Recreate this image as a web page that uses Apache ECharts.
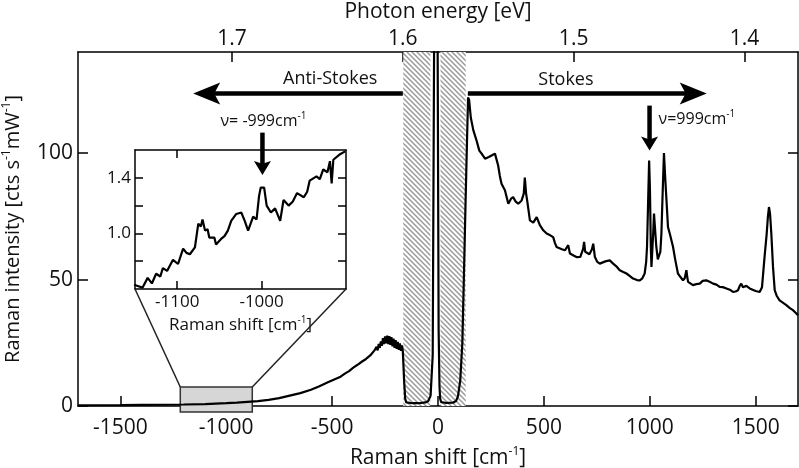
<!DOCTYPE html>
<html><head><meta charset="utf-8">
<script src="https://cdn.jsdelivr.net/npm/echarts@6/dist/echarts.min.js"></script>
<style>html,body{margin:0;padding:0;background:#fff}#c{width:799px;height:468px}</style>
</head><body><div id="c"></div>
<script>
// ---------- data ----------
// main spectrum: [Raman shift (cm-1), intensity (cts s-1 mW-1)]
const spectrum = [
[-1700,0.25],[-1600,0.3],[-1500,0.35],[-1400,0.45],[-1300,0.5],[-1200,0.6],[-1100,0.75],[-1000,1.1],
[-950,1.3],[-900,1.6],[-850,1.9],[-800,2.4],[-750,3.1],[-700,4.1],[-650,5.1],[-600,6.4],[-560,7.8],
[-520,9.4],[-490,10.5],[-460,11.6],[-440,12.8],[-420,13.8],[-400,15.2],[-380,16.3],[-360,17.5],
[-340,18.6],[-320,20.0],[-300,22.0],[-290,23.4],[-285,22.0],[-280,24.5],[-275,23.0],[-270,25.5],
[-265,23.8],[-260,26.8],[-255,24.5],[-250,27.5],[-245,24.8],[-240,27.8],[-235,24.5],[-230,27.6],
[-225,24.2],[-220,27.2],[-215,23.6],[-210,26.6],[-205,23.0],[-200,26.0],[-195,22.6],[-190,25.4],
[-185,22.2],[-180,24.8],[-175,21.8],[-170,24.0],[-166,21.5],[-160,10],[-155,3],[-150,1.4],[-120,1.1],
[-90,1.1],[-60,1.4],[-47,1.9],[-35,4],[-25,20],[-18,150],[-10,2000],[-2,150],[3,30],[7,8],[10,3],
[15,1.5],[40,1.2],[70,1.3],[85,2],[94,3.7],[105,10],[115,25],[122,50],[130,80],[137,105],[142,122],
[147,121],[155,114],[167,109],[182,105],[195,101],[206,99.8],[222,97.8],[240,98.5],[253,99.1],
[269,99.8],[284,95.1],[292,91],[300,87.9],[316,85.3],[332,80],[345,82],[355,82.6],[367,80.8],
[379,80],[395,81.3],[405,84],[410,90.3],[416,84],[421,81.3],[434,73.4],[450,72.5],[466,74.7],
[481,71.5],[497,69.5],[513,68.2],[530,67.5],[544,66.8],[552,64.5],[560,62.9],[585,62],[600,61.6],
[607,61.6],[615,63.6],[623,60.3],[640,59.5],[654,58.9],[672,59],[685,62],[690,64.9],[695,61],
[701,60.3],[715,60],[727,62],[733,64.2],[741,58.9],[752,57],[764,56.3],[790,57.2],[811,57.6],
[827,56.3],[845,55],[858,53.7],[875,53],[890,52.4],[905,51.5],[921,50.4],[940,49.8],[953,49.7],
[965,50.5],[976,52.4],[983,57],[987,62.9],[992,80],[997,97.1],[1001,85],[1005,62.9],[1008,55],
[1011,55.7],[1016,68],[1020,76.1],[1025,70],[1031,62.9],[1038,58],[1044,57.6],[1050,61],[1055,68.2],
[1060,82],[1067,100],[1073,90],[1079,81.3],[1086,70.8],[1095,68],[1110,62.9],[1120,58],[1133,52.4],
[1145,51],[1157,49.7],[1165,50.5],[1173,53.7],[1177,51],[1181,49.1],[1190,48.5],[1204,47.8],
[1220,48.2],[1236,48.4],[1250,49.5],[1267,49.7],[1285,49],[1299,48.4],[1315,48],[1330,47.1],
[1345,47],[1362,46.5],[1378,46],[1393,45.1],[1405,45.3],[1417,45.8],[1425,47.5],[1432,48.4],
[1440,47],[1448,46.5],[1456,47.5],[1464,47.8],[1472,46.5],[1480,45.8],[1500,45.5],[1519,45.1],
[1530,47],[1542,58.9],[1552,68],[1558,75],[1563,78.7],[1568,76],[1574,68.2],[1582,55],[1590,45.8],
[1600,43.5],[1613,41.8],[1630,40.8],[1645,39.9],[1660,38.8],[1676,37.9],[1690,36.8],[1700,35.9]
];
// inset spectrum (zoom of the anti-Stokes side)
const insetSpectrum = [
[-1151,0.63],[-1146,0.62],[-1141,0.61],[-1135,0.68],[-1130,0.64],[-1125,0.71],[-1120,0.69],
[-1117,0.75],[-1112,0.73],[-1105,0.81],[-1099,0.78],[-1093,0.89],[-1089,0.86],[-1085,0.85],
[-1079,0.9],[-1075,1.07],[-1072,1.05],[-1070,1.1],[-1067,1.02],[-1064,1.03],[-1062,0.97],
[-1056,0.97],[-1054,0.92],[-1048,0.96],[-1044,0.98],[-1040,1.02],[-1036,1.09],[-1030,1.14],
[-1024,1.15],[-1020,1.09],[-1016,1.02],[-1013,1.07],[-1010,1.12],[-1006,1.10],[-1003,1.27],
[-1001,1.33],[-997,1.33],[-994,1.2],[-989,1.15],[-984,1.18],[-978,1.09],[-974,1.24],[-968,1.2],
[-963,1.23],[-958,1.29],[-950,1.26],[-946,1.3],[-943,1.38],[-935,1.41],[-931,1.39],[-927,1.46],
[-922,1.44],[-919,1.52],[-917,1.36],[-915,1.53],[-907,1.57],[-901,1.59]
];
const xTickValues = [-1500,-1000,-500,0,500,1000,1500];
const yTickValues = [0,50,100];
const energyTickLabels = [1.7,1.6,1.5,1.4];
const insetXTickValues = [-1100,-1000];
const insetYTickValues = [0.8,1.0,1.2,1.4];
const insetYLabelValues = [1.0,1.4];
const hatchBands = [[-164,-36],[12,131]];
const zoomBox = {x:[-1217,-877], y:[-2.4,7.5]};
const laserNm = 785;

// ---------- helpers ----------
const EL = 1239.84 / laserNm;            // laser photon energy (eV)
const K = 1.23984e-4;                     // eV per cm-1
const energyTickShifts = energyTickLabels.map(e => (EL - e) / K);
const FONT = 'Open Sans';
const TXT = '#111';

const hatch = document.createElement('canvas');
hatch.width = 5; hatch.height = 5;
(function(){
  const g = hatch.getContext('2d');
  g.fillStyle = '#fff'; g.fillRect(0,0,5,5);
  g.strokeStyle = '#999'; g.lineWidth = 1.5;
  for (const o of [-5,0,5]) { g.beginPath(); g.moveTo(o-1,-1); g.lineTo(o+6,6); g.stroke(); }
})();

function supName(size){
  return {
    fontFamily: FONT, fontSize: size, color: TXT,
    rich: {
      a: {fontFamily: FONT, fontSize: size, color: TXT, lineHeight: size+4},
      s: {fontFamily: FONT, fontSize: Math.round(size*0.58), color: TXT, verticalAlign: 'top', lineHeight: size+4}
    }
  };
}

const axisLineStyle = {show:true, onZero:false, lineStyle:{color:'#000', width:1.5}};
const tick = (vals, len) => ({show:true, inside:true, length:len, lineStyle:{color:'#000', width:1.5}, customValues: vals});

const chart = echarts.init(document.getElementById('c'), null, {renderer:'canvas'});
chart.setOption({
  animation:false,
  backgroundColor:'#fff',
  grid:[
    {left:78, top:52, right:1, bottom:62, show:false, containLabel:false, outerBoundsMode:'none'},
    {left:135, top:150, width:211, height:139, show:true, backgroundColor:'#fff', borderWidth:0, containLabel:false, outerBoundsMode:'none'}
  ],
  xAxis:[
    {type:'value', gridIndex:0, position:'bottom', min:-1700, max:1700,
     axisLine:axisLineStyle, axisTick:tick(xTickValues,10), splitLine:{show:false},
     axisLabel:{customValues:xTickValues, formatter:v=>String(v), fontFamily:FONT, fontSize:21, color:TXT, margin:12},
     name:'{a|Raman shift [cm}{s|-1}{a|]}', nameLocation:'middle', nameGap:40, nameTextStyle:supName(21)},
    {type:'value', gridIndex:0, position:'top', min:-1700, max:1700,
     axisLine:axisLineStyle, axisTick:tick(energyTickShifts,10), splitLine:{show:false},
     axisLabel:{customValues:energyTickShifts, formatter:v=>(EL - v*K).toFixed(1), fontFamily:FONT, fontSize:21, color:TXT, margin:2},
     name:'Photon energy [eV]', nameLocation:'middle', nameGap:29, nameTextStyle:{fontFamily:FONT, fontSize:21, color:TXT}},
    {type:'value', gridIndex:1, position:'bottom', min:-1150, max:-900,
     axisLine:axisLineStyle, axisTick:tick(insetXTickValues,8), splitLine:{show:false},
     axisLabel:{customValues:insetXTickValues, formatter:v=>String(v), fontFamily:FONT, fontSize:17, color:TXT, margin:5},
     name:'{a|Raman shift [cm}{s|-1}{a|]}', nameLocation:'middle', nameGap:26, nameTextStyle:supName(17)},
    {type:'value', gridIndex:1, position:'top', min:-1150, max:-900,
     axisLine:axisLineStyle, axisTick:tick(insetXTickValues,8), axisLabel:{show:false}, splitLine:{show:false}}
  ],
  yAxis:[
    {type:'value', gridIndex:0, position:'left', min:0, max:140,
     axisLine:axisLineStyle, axisTick:tick(yTickValues,10), splitLine:{show:false},
     axisLabel:{customValues:yTickValues, fontFamily:FONT, fontSize:21, color:TXT, margin:5},
     name:'{a|Raman intensity [cts s}{s|-1}{a|mW}{s|-1}{a|]}', nameLocation:'middle', nameGap:53, nameTextStyle:supName(20)},
    {type:'value', gridIndex:0, position:'right', min:0, max:140,
     axisLine:axisLineStyle, axisTick:tick(yTickValues,10), axisLabel:{show:false}, splitLine:{show:false}},
    {type:'value', gridIndex:1, position:'left', min:0.6, max:1.6,
     axisLine:axisLineStyle, axisTick:tick(insetYTickValues,8), splitLine:{show:false},
     axisLabel:{customValues:insetYLabelValues, formatter:v=>v.toFixed(1), fontFamily:FONT, fontSize:17, color:TXT, margin:4}},
    {type:'value', gridIndex:1, position:'right', min:0.6, max:1.6,
     axisLine:axisLineStyle, axisTick:tick(insetYTickValues,8), axisLabel:{show:false}, splitLine:{show:false}}
  ],
  series:[
    {type:'line', xAxisIndex:0, yAxisIndex:0, data:spectrum, showSymbol:false, symbol:'none',
     lineStyle:{color:'#000', width:2.2}, z:3, clip:true,
     markArea:{silent:true, itemStyle:{color:{image:hatch, repeat:'repeat'}},
       data: hatchBands.map(b => [{xAxis:b[0]},{xAxis:b[1]}])}},
    {type:'line', xAxisIndex:2, yAxisIndex:2, data:insetSpectrum, showSymbol:false, symbol:'none',
     lineStyle:{color:'#000', width:2.2}, z:3}
  ]
});

// ---------- annotations ----------
const arrowLevel = 123.6;
const antiStokesArrow = [-166, -1156];
const stokesArrow = [141, 1269];
const stokesPeakArrow = {x:999, y:[118.8, 101]};
const antiPeakArrow = {x:-999, y:[1.725, 1.42]};

(function(){
  const P = (x,y)=>chart.convertToPixel({xAxisIndex:0,yAxisIndex:0},[x,y]);
  const Q = (x,y)=>chart.convertToPixel({xAxisIndex:2,yAxisIndex:2},[x,y]);
  const els = [];
  function hArrow(x0,x1,y){
    const a=P(x0,y), b=P(x1,y); const d=Math.sign(b[0]-a[0]); const L=27,H=22;
    els.push({type:'line', z:100, shape:{x1:a[0],y1:a[1],x2:b[0]-d*L*0.7,y2:b[1]}, style:{stroke:'#000',lineWidth:4.5}});
    els.push({type:'polygon', z:100, shape:{points:[[b[0],b[1]],[b[0]-d*L,b[1]-H/2],[b[0]-d*L*0.78,b[1]],[b[0]-d*L,b[1]+H/2]]}, style:{fill:'#000'}});
  }
  function vArrow(t,p){
    const L=14,W=17;
    els.push({type:'line', z:100, shape:{x1:t[0],y1:t[1],x2:p[0],y2:p[1]-L*0.7}, style:{stroke:'#000',lineWidth:4.5}});
    els.push({type:'polygon', z:100, shape:{points:[[p[0],p[1]],[p[0]-W/2,p[1]-L],[p[0],p[1]-L*0.8],[p[0]+W/2,p[1]-L]]}, style:{fill:'#000'}});
  }
  function label(x,y,txt,size,align){
    els.push({type:'text', z:100, x:x, y:y, style:{text:txt, fontFamily:FONT, fontSize:size, fill:TXT, align:align, verticalAlign:'middle',
      rich:{a:{fontFamily:FONT,fontSize:size,fill:TXT,lineHeight:size+4}, s:{fontFamily:FONT,fontSize:Math.round(size*0.6),fill:TXT,verticalAlign:'top',lineHeight:size+4}}}});
  }
  // zoom box and connectors
  const b0=P(zoomBox.x[0],zoomBox.y[1]), b1=P(zoomBox.x[1],zoomBox.y[0]);
  els.push({type:'rect', z:1, shape:{x:b0[0],y:b0[1],width:b1[0]-b0[0],height:b1[1]-b0[1]}, style:{fill:'#d6d6d6',stroke:'#333',lineWidth:1.5}});
  const i0=Q(-1150,0.6), i1=Q(-900,0.6);
  els.push({type:'line', z:1, shape:{x1:b0[0],y1:b0[1],x2:i0[0],y2:i0[1]}, style:{stroke:'#222',lineWidth:1.5}});
  els.push({type:'line', z:1, shape:{x1:b1[0],y1:b0[1],x2:i1[0],y2:i1[1]}, style:{stroke:'#222',lineWidth:1.5}});

  hArrow(antiStokesArrow[0], antiStokesArrow[1], arrowLevel);
  hArrow(stokesArrow[0], stokesArrow[1], arrowLevel);
  const a1=P(antiStokesArrow[0],arrowLevel);
  const s1=P(stokesArrow[0],arrowLevel);
  label(P(-509,0)[0], a1[1]-15, 'Anti-Stokes', 18, 'center');
  label(P(604,0)[0], s1[1]-14, 'Stokes', 18, 'center');

  const st=P(stokesPeakArrow.x,stokesPeakArrow.y[0]), sp=P(stokesPeakArrow.x,stokesPeakArrow.y[1]);
  vArrow(st,sp);
  label(st[0]+9, st[1]+14, '{a|ν=999cm}{s|-1}', 16, 'left');
  const at=Q(antiPeakArrow.x,antiPeakArrow.y[0]), ap=Q(antiPeakArrow.x,antiPeakArrow.y[1]);
  vArrow(at,ap);
  label(at[0]+1, at[1]-11, '{a|ν= -999cm}{s|-1}', 16, 'center');
  chart.setOption({graphic:{elements:els}});
})();
</script>
</body></html>
